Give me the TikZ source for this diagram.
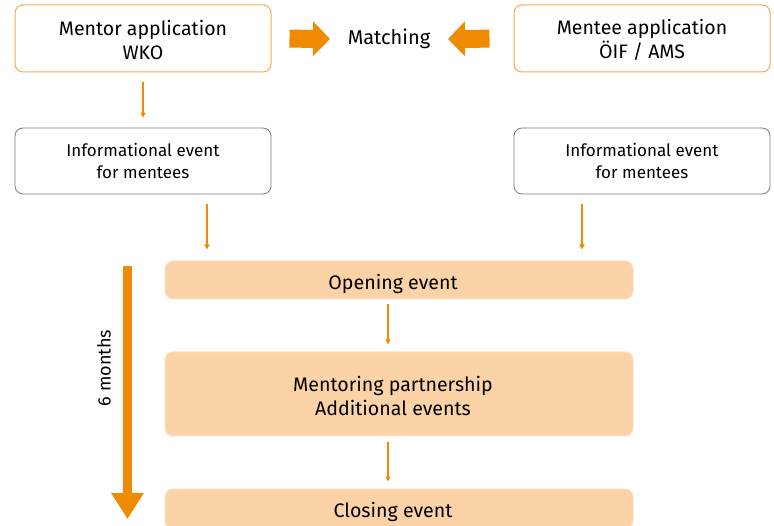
\documentclass[tikz,border=0pt]{standalone}
\usepackage{fontspec}
\setmainfont{Fira Sans}
\usetikzlibrary{arrows.meta}
\definecolor{orA}{HTML}{F08A00}
\definecolor{orB}{HTML}{F5AA50}
\definecolor{fillB}{HTML}{FBD3A6}
\definecolor{fillBd}{HTML}{FCE0C0}
\definecolor{grB}{HTML}{7A7A7A}
\newcommand{\rpad}{\hspace*{12pt}}
\tikzset{
  appbox/.style={draw=orB, line width=1pt, rounded corners=8pt, minimum width=256pt, minimum height=67pt, align=center, font=\fontsize{19.5}{24}\selectfont, text=black, text height=42pt},
  infobox/.style={draw=grB, line width=0.8pt, rounded corners=8pt, minimum width=256pt, minimum height=66pt, align=center, font=\fontsize{17}{22}\selectfont, text=black},
  evbox/.style={fill=fillB, draw=fillBd, line width=1pt, rounded corners=8pt, minimum width=468pt, align=center, font=\fontsize{19.6}{24}\selectfont, text=black},
  thin/.style={draw=orA, line width=1.4pt, -{Triangle[length=5pt,width=5pt]}},
  bigarrow/.style={draw=orA, line width=18pt, -{Triangle[length=17pt,width=34pt]}},
}
\begin{document}
\begin{tikzpicture}[x=1pt,y=-1pt]
\useasboundingbox (0,0) rectangle (774,526);
\node[appbox] (mentor) at (143,38.5) {Mentor application\\WKO};
\node[appbox] (mentee) at (642,38.5) {Mentee application\\ÖIF / AMS};
\node[font=\fontsize{20}{24}\selectfont, inner sep=2pt] (match) at (389,39) {Matching};
\node[infobox] (infoL) at (143,161) {Informational event\\for mentees};
\node[infobox] (infoR) at (642,161) {Informational event\\for mentees};
\node[evbox, minimum height=38pt, text height=24pt] (open) at (399,280) {Opening event\rpad};
\node[evbox, minimum height=84pt, text height=44pt] (mentoring) at (399,394) {Mentoring partnership\rpad\\Additional events\rpad};
\node[evbox, minimum height=40pt, text height=21pt] (close) at (399,509) {Closing event\rpad};

\draw[bigarrow, shorten <=18pt] (mentor.east) -- (match.west -| 330,0);
\draw[bigarrow, shorten <=24pt] (mentee.west) -- (match.east -| 448,0);

\draw[thin, shorten <=10pt, shorten >=10pt] (mentor.south) -- (infoL.north);
\draw[thin, shorten <=10pt, shorten >=11pt] (infoL.south -| 207,0) -- (open.north -| 207,0);
\draw[thin, shorten <=10pt, shorten >=11pt] (infoR.south -| 582,0) -- (open.north -| 582,0);
\draw[thin, shorten <=5pt, shorten >=7pt] (open.south -| 388,0) -- (mentoring.north -| 388,0);
\draw[thin, shorten <=6pt, shorten >=7pt] (mentoring.south -| 388,0) -- (close.north -| 388,0);

\coordinate (mtop) at (127.5,266);
\coordinate (mbot) at (127.5,519);
\draw[draw=orA, line width=9pt, -{Triangle[length=26pt,width=31pt]}] (mtop) -- (mbot);
\node[rotate=90, font=\fontsize{18}{22}\selectfont] (months) at (104,368) {6 months};
\end{tikzpicture}
\end{document}
